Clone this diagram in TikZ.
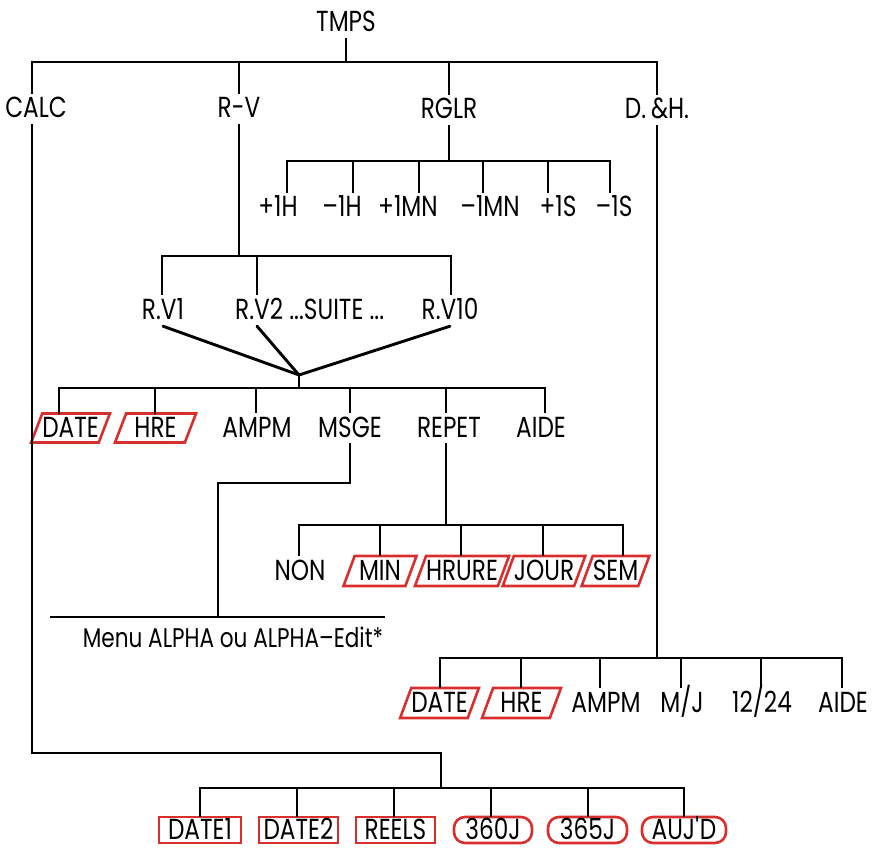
\documentclass[tikz,border=0pt]{standalone}
\usepackage{fontspec}
\setmainfont{Poppins}[FakeStretch=0.80]
\usetikzlibrary{shapes.geometric}
\definecolor{keyred}{RGB}{216,46,46}
\tikzstyle{branch}=[line width=2.9pt,line cap=rect]
\tikzstyle{fan}=[line width=2.9pt,line cap=round]
\tikzstyle{lbl}=[inner xsep=0pt,inner ysep=7pt,text height=18pt,text depth=0pt,font=\fontsize{29}{34}\selectfont]
\tikzstyle{key}=[lbl,draw=keyred,line width=2.6pt,inner ysep=5.5pt,minimum height=29pt]
\tikzstyle{shiftkey}=[key,trapezium,trapezium left angle=69,trapezium right angle=111,trapezium stretches body]
\tikzstyle{softkey}=[key,rounded corners=11pt]

\begin{document}
\begin{tikzpicture}[x=1pt,y=-1pt]
\useasboundingbox (0,0) rectangle (879,856);

% top level
\node[lbl] (tmps) at (346,23) {TMPS};
\coordinate (top) at (346,62);
\coordinate (jcalc) at (32,62);
\node[lbl] (calc) at (36,109) {CALC};
\node[lbl] (rv) at (239,109) {R-V};
\node[lbl] (rglr) at (449,110) {RGLR};
\node[lbl] (dh) at (657,110) {D.\,\&H.};
\draw[branch] (tmps) -- (top);
\draw[branch] (jcalc |- calc.north) |- (top) -| (dh.north);
\draw[branch] (top -| rv) -- (rv.north);
\draw[branch] (top -| rglr) -- (rglr.north);

% RGLR
\coordinate (rglrbar) at (449,161);
\draw[branch] (rglr.south) -- (rglrbar);
\foreach \jx/\tx/\nm/\txt in {287/278/ph/{+1H},353/342/mh/{–1H},419/408/pmn/{+1MN},
  483/490/mmn/{–1MN},548/558/ps/{+1S},610/614/ms/{–1S}}{
  \node[lbl] (\nm) at (\tx,208) {\txt};
  \coordinate (j\nm) at (\jx,161);
  \draw[branch] (rglrbar) -- (j\nm) -- (j\nm |- \nm.north);
}

% R-V
\coordinate (rvbar) at (239,256);
\draw[branch] (rv.south) -- (rvbar);
\node[lbl] (rvone) at (163,310) {R.V1};
\node[lbl,anchor=west] (rvmore) at (235,310) {R.V2 ...SUITE ...};
\node[lbl] (rvten) at (450,310) {R.V10};
\coordinate (jrvone) at (162,256);
\coordinate (jrvmore) at (257,256);
\coordinate (jrvten) at (451,256);
\draw[branch] (jrvone |- rvone.north) |- (jrvten) -- (jrvten |- rvten.north);
\draw[branch] (jrvmore) -- (jrvmore |- rvmore.north);
\coordinate (fan) at (299,375);
\coordinate (midbar) at (299,388);
\draw[fan] (rvone.south) -- (fan);
\draw[fan] (jrvmore |- rvmore.south) -- (fan);
\draw[fan] (rvten.south) -- (fan);
\draw[branch] (fan) -- (midbar);
\foreach \jx/\tx/\nm/\st/\w/\txt in {59/70.5/date/shiftkey/71/DATE,155/155.5/hre/shiftkey/81/HRE,
  256/257/ampm/lbl/0/AMPM,350/350/msge/lbl/0/MSGE,446/449/repet/lbl/0/REPET,545/541/aide/lbl/0/AIDE}{
  \node[\st,minimum width=\w pt] (\nm) at (\tx,428) {\txt};
  \coordinate (j\nm) at (\jx,388);
  \draw[branch] (midbar) -- (j\nm) -- (j\nm |- \nm.north);
}

% MSGE
\coordinate (mturn) at (218,483);
\coordinate (menubar) at (218,617);
\coordinate (menul) at (51,617);
\coordinate (menur) at (384,617);
\draw[branch] (msge.south) |- (mturn) -- (menubar);
\draw[branch] (menul) -- (menur);
\node[lbl,font=\fontsize{27}{32}\selectfont] (menu) at (233,638) {Menu ALPHA ou ALPHA–Edit*};

% REPET
\coordinate (repbar) at (446,525);
\draw[branch] (jrepet |- repet.south) -- (repbar);
\foreach \jx/\tx/\nm/\st/\w/\txt in {299/300/non/lbl/0/NON,380/380/min/shiftkey/73/MIN,
  461/462/hrure/shiftkey/83/HRURE,543/544/jour/shiftkey/73/JOUR,623/615.5/sem/shiftkey/63/SEM}{
  \node[\st,minimum width=\w pt,minimum height=30pt] (\nm) at (\tx,571) {\txt};
  \coordinate (j\nm) at (\jx,525);
  \draw[branch] (repbar) -- (j\nm) -- (j\nm |- \nm.north);
}

% D.&H.
\coordinate (dhbar) at (657,658);
\draw[branch] (dh.south) -- (dhbar);
\foreach \jx/\tx/\nm/\st/\w/\txt in {440/439.5/dhdate/shiftkey/71/DATE,521/521.5/dhhre/shiftkey/79/HRE,
  600/606/dhampm/lbl/0/AMPM,681/682/mj/lbl/0/{M/J},761/762/tf/lbl/0/{12/24},842/843/dhaide/lbl/0/AIDE}{
  \node[\st,minimum width=\w pt,minimum height=30pt] (\nm) at (\tx,703) {\txt};
  \coordinate (j\nm) at (\jx,658);
  \draw[branch] (dhbar) -- (j\nm) -- (j\nm |- \nm.north);
}

% CALC
\coordinate (calcturn) at (32,753);
\coordinate (calcbar) at (441,788);
\draw[branch] (jcalc |- calc.south) -- (calcturn) -| (calcbar);
\foreach \jx/\tx/\nm/\st/\w/\txt in {200/200/dateone/key/82/DATE1,297/298.5/datetwo/key/79/DATE2,
  394/395.5/reels/key/79/REELS,491/493/tsz/softkey/78/360J,588/587.5/tsf/softkey/79/365J,
  684/684/aujd/softkey/84/{AUJ\textquotesingle D}}{
  \node[\st,minimum width=\w pt,inner ysep=4pt,minimum height=26pt] (\nm) at (\tx,830) {\txt};
  \coordinate (j\nm) at (\jx,788);
  \draw[branch] (calcbar) -- (j\nm) -- (j\nm |- \nm.north);
}

\end{tikzpicture}
\end{document}
